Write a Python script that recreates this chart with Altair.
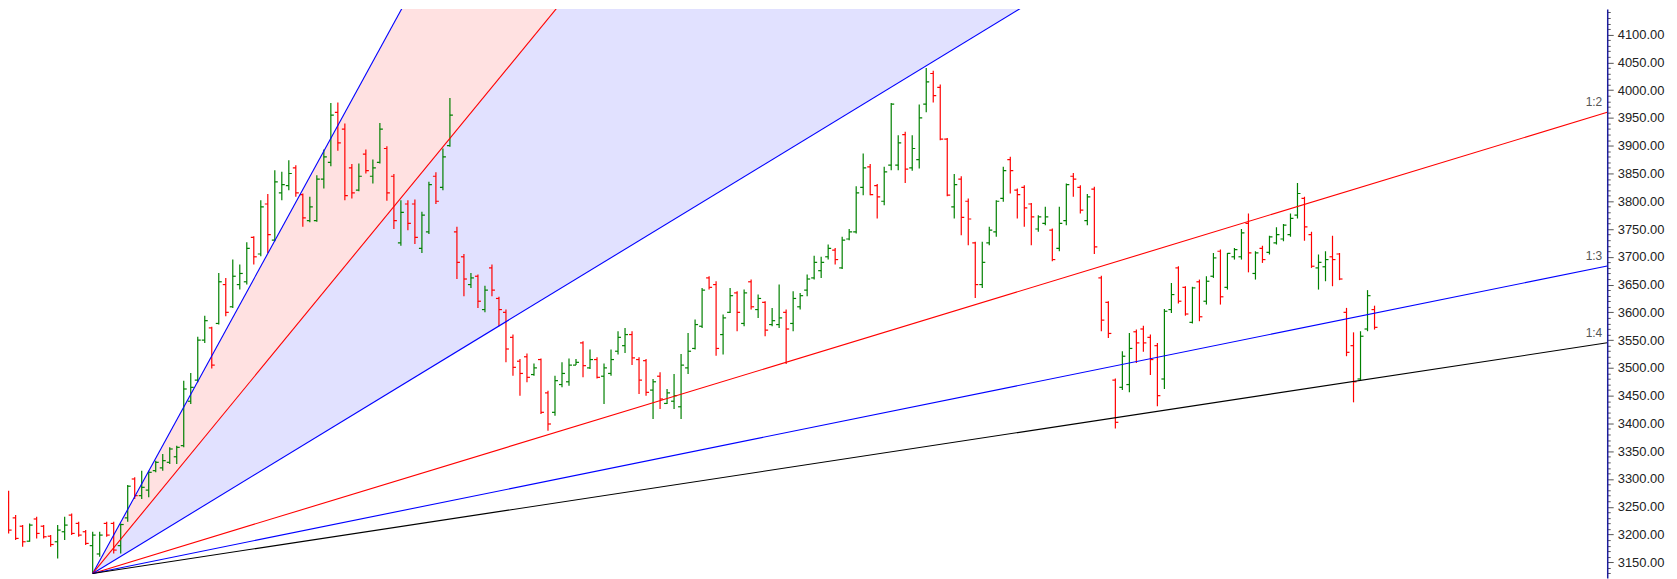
import altair as alt
import pandas as pd

# ---------------- OHLC data (one entry per bar) ----------------
opens = [3295, 3258, 3230, 3215, 3188, 3228, 3215, 3197, 3187, 3205,
         3235, 3220, 3205, 3180, 3165, 3220, 3220, 3180, 3230, 3300,
         3270, 3280, 3315, 3320, 3330, 3340, 3360, 3440, 3478, 3550,
         3572, 3580, 3650, 3610, 3650, 3655, 3735, 3705, 3795, 3730,
         3815, 3828, 3860, 3812, 3765, 3765, 3840, 3870, 3960, 3930,
         3860, 3820, 3885, 3845, 3870, 3895, 3845, 3725, 3795, 3795,
         3715, 3745, 3845, 3825, 3900, 3745, 3700, 3650, 3665, 3605,
         3680, 3625, 3600, 3555, 3512, 3520, 3488, 3515, 3455, 3420,
         3470, 3475, 3505, 3545, 3500, 3515, 3485, 3490, 3530, 3540,
         3560, 3515, 3513, 3460, 3485, 3436, 3440, 3430, 3500, 3535,
         3575, 3662, 3650, 3560, 3600, 3635, 3580, 3655, 3605, 3618,
         3578, 3578, 3600, 3580, 3610, 3640, 3662, 3675, 3700, 3712,
         3680, 3732, 3745, 3825, 3862, 3828, 3800, 3865, 3865, 3920,
         3860, 3875, 3975, 4030, 4005, 3912, 3790, 3840, 3800, 3725,
         3650, 3725, 3745, 3805, 3875, 3820, 3825, 3795, 3750, 3760,
         3748, 3715, 3765, 3845, 3825, 3765, 3822, 3662, 3618, 3478,
         3465, 3470, 3565, 3570, 3555, 3540, 3480, 3605, 3680, 3645,
         3582, 3655, 3620, 3665, 3710, 3645, 3700, 3700, 3760, 3670,
         3715, 3708, 3725, 3732, 3740, 3775, 3805, 3740, 3680, 3682,
         3700, 3705, 3600, 3540, 3480, 3570, 3605]
highs = [3298, 3279, 3235, 3217, 3220, 3232, 3217, 3199, 3217, 3232,
         3238, 3223, 3208, 3205, 3205, 3223, 3223, 3220, 3289, 3303,
         3315, 3315, 3333, 3345, 3357, 3360, 3477, 3491, 3556, 3594,
         3574, 3671, 3662, 3695, 3686, 3726, 3737, 3802, 3813, 3856,
         3853, 3874, 3865, 3814, 3808, 3847, 3893, 3977, 3978, 3940,
         3867, 3868, 3893, 3875, 3941, 3899, 3849, 3802, 3802, 3803,
         3781, 3835, 3852, 3895, 3986, 3754, 3705, 3671, 3668, 3648,
         3686, 3628, 3605, 3560, 3516, 3526, 3508, 3517, 3459, 3486,
         3510, 3517, 3516, 3548, 3533, 3519, 3508, 3533, 3566, 3572,
         3566, 3519, 3516, 3480, 3492, 3462, 3489, 3525, 3563, 3587,
         3644, 3665, 3656, 3596, 3644, 3638, 3641, 3659, 3632, 3620,
         3608, 3650, 3605, 3638, 3635, 3668, 3702, 3700, 3722, 3716,
         3736, 3750, 3827, 3886, 3867, 3831, 3862, 3977, 3919, 3925,
         3919, 3974, 4040, 4035, 4010, 3914, 3849, 3845, 3805, 3727,
         3727, 3754, 3802, 3862, 3880, 3823, 3829, 3797, 3775, 3790,
         3751, 3790, 3832, 3851, 3829, 3813, 3826, 3666, 3620, 3481,
         3530, 3563, 3569, 3576, 3560, 3545, 3606, 3653, 3683, 3647,
         3646, 3659, 3665, 3707, 3713, 3707, 3716, 3750, 3778, 3710,
         3720, 3738, 3753, 3759, 3778, 3833, 3808, 3745, 3704, 3710,
         3738, 3707, 3608, 3564, 3566, 3640, 3612]
lows = [3232, 3202, 3190, 3178, 3187, 3193, 3193, 3178, 3157, 3190,
        3199, 3196, 3181, 3130, 3160, 3196, 3166, 3166, 3223, 3264,
        3264, 3267, 3312, 3315, 3327, 3327, 3357, 3435, 3474, 3545,
        3499, 3578, 3593, 3608, 3641, 3650, 3686, 3701, 3707, 3728,
        3802, 3820, 3808, 3754, 3762, 3763, 3823, 3863, 3891, 3802,
        3805, 3818, 3850, 3832, 3868, 3801, 3750, 3720, 3748, 3723,
        3707, 3741, 3795, 3820, 3898, 3660, 3629, 3644, 3608, 3600,
        3629, 3575, 3510, 3486, 3450, 3474, 3486, 3417, 3387, 3414,
        3465, 3468, 3505, 3483, 3498, 3481, 3435, 3486, 3524, 3527,
        3505, 3453, 3450, 3408, 3426, 3435, 3426, 3408, 3489, 3533,
        3572, 3641, 3522, 3524, 3599, 3566, 3575, 3605, 3590, 3557,
        3575, 3572, 3507, 3566, 3605, 3629, 3659, 3662, 3695, 3686,
        3678, 3730, 3742, 3811, 3811, 3769, 3793, 3856, 3856, 3833,
        3855, 3859, 3960, 3978, 3910, 3809, 3769, 3739, 3721, 3626,
        3644, 3721, 3736, 3799, 3814, 3769, 3754, 3721, 3745, 3757,
        3692, 3710, 3757, 3808, 3778, 3757, 3705, 3566, 3554, 3391,
        3460, 3456, 3509, 3529, 3487, 3431, 3462, 3599, 3616, 3594,
        3580, 3584, 3614, 3662, 3614, 3641, 3695, 3695, 3672, 3659,
        3689, 3704, 3722, 3728, 3736, 3769, 3729, 3680, 3641, 3656,
        3647, 3658, 3521, 3438, 3477, 3566, 3569]
closes = [3258, 3208, 3193, 3187, 3217, 3202, 3196, 3182, 3208, 3217,
          3202, 3199, 3184, 3199, 3199, 3199, 3172, 3218, 3287, 3270,
          3285, 3312, 3330, 3333, 3354, 3357, 3462, 3465, 3550, 3585,
          3505, 3655, 3600, 3665, 3670, 3715, 3700, 3790, 3740, 3835,
          3830, 3850, 3815, 3770, 3790, 3840, 3880, 3955, 3905, 3810,
          3815, 3845, 3855, 3860, 3930, 3815, 3765, 3780, 3760, 3735,
          3775, 3830, 3800, 3880, 3955, 3690, 3660, 3662, 3620, 3640,
          3640, 3605, 3534, 3501, 3490, 3483, 3500, 3420, 3399, 3477,
          3490, 3505, 3510, 3504, 3515, 3483, 3500, 3515, 3555, 3560,
          3518, 3478, 3456, 3475, 3444, 3455, 3450, 3505, 3530, 3578,
          3640, 3645, 3535, 3590, 3630, 3600, 3635, 3610, 3625, 3568,
          3585, 3590, 3570, 3625, 3630, 3660, 3690, 3690, 3715, 3695,
          3730, 3745, 3815, 3860, 3812, 3808, 3853, 3975, 3905, 3858,
          3895, 3950, 4015, 3990, 3912, 3811, 3830, 3771, 3768, 3650,
          3690, 3748, 3800, 3855, 3855, 3812, 3788, 3772, 3772, 3772,
          3695, 3760, 3830, 3840, 3784, 3808, 3718, 3586, 3562, 3402,
          3521, 3535, 3545, 3545, 3515, 3450, 3602, 3632, 3620, 3597,
          3644, 3592, 3656, 3698, 3628, 3706, 3713, 3743, 3707, 3707,
          3695, 3736, 3740, 3757, 3769, 3814, 3754, 3683, 3690, 3695,
          3695, 3660, 3528, 3475, 3557, 3630, 3573]

# ---------------- Gann fan ----------------
fan_names = ["3:1", "2:1", "1:1", "1:2", "1:3", "1:4"]
fan_ratios = [3.0, 2.0, 1.0, 0.5, 1.0 / 3.0, 0.25]
fan_colors = ["#0000ff", "#ff0000", "#0000ff", "#ff0000", "#0000ff", "#000000"]
fan_labelled = ["1:2", "1:3", "1:4"]
fan_origin_bar = 13
fan_origin_price = 3130
fan_unit = 7.68          # price per bar for the 1:1 line
fills = [("3:1", "2:1", "#ffe1e1"), ("2:1", "1:1", "#e1e1ff")]

# visible ranges
X_MIN, X_MAX = 0.91, 229.22
Y_MIN, Y_MAX = 3121.8, 4146.05

UP_COLOR = "#008000"
DOWN_COLOR = "#ff0000"

n = len(opens)
bars = pd.DataFrame({"i": list(range(n)), "o": opens, "h": highs,
                     "l": lows, "c": closes})
bars["col"] = [UP_COLOR if c >= o else DOWN_COLOR for o, c in zip(opens, closes)]


def fan_price(ratio, x):
    return fan_origin_price + ratio * fan_unit * (x - fan_origin_bar)


line_rows = []
for name, r, col in zip(fan_names, fan_ratios, fan_colors):
    for x in (fan_origin_bar, X_MAX):
        line_rows.append({"name": name, "x": x, "y": fan_price(r, x), "col": col})
lines = pd.DataFrame(line_rows)

ratio_of = dict(zip(fan_names, fan_ratios))
fill_rows = []
for a, b, col in fills:
    for x in (fan_origin_bar, X_MAX):
        fill_rows.append({"name": a + "/" + b, "x": x,
                          "y": fan_price(ratio_of[a], x),
                          "y2": fan_price(ratio_of[b], x), "col": col})
fill_df = pd.DataFrame(fill_rows)

label_df = pd.DataFrame({"name": fan_labelled,
                         "x": [X_MAX] * len(fan_labelled),
                         "y": [fan_price(ratio_of[nm], X_MAX) for nm in fan_labelled]})

tick_values = list(range(3130, 4150, 10))
y_axis = alt.Axis(
    orient="right", values=tick_values, title=None, grid=False,
    labelExpr="datum.value % 50 === 0 ? format(datum.value, '.2f') : ''",
    labelOverlap=False, labelFont="Liberation Sans", labelFontSize=13,
    labelColor="#222222", labelPadding=4,
    tickSize={"condition": {"test": "datum.value % 50 === 0", "value": 6}, "value": 3},
    tickColor="#555555", tickWidth=1,
    domainColor="#1c1c9c", domainWidth=1.5,
)
xs = alt.Scale(domain=[X_MIN, X_MAX], nice=False, zero=False)
ys = alt.Scale(domain=[Y_MIN, Y_MAX], nice=False, zero=False)

fill_layer = alt.Chart(fill_df).mark_area(clip=True, opacity=1).encode(
    x=alt.X("x:Q", scale=xs, axis=None),
    y=alt.Y("y:Q", scale=ys, axis=y_axis),
    y2="y2:Q",
    fill=alt.Fill("col:N", scale=None),
    detail="name:N",
)

hl = alt.Chart(bars).mark_rule(clip=True, strokeWidth=1.2).encode(
    x=alt.X("i:Q", scale=xs, axis=None),
    y=alt.Y("l:Q", scale=ys, axis=y_axis),
    y2="h:Q",
    stroke=alt.Stroke("col:N", scale=None),
)
open_tick = alt.Chart(bars).mark_rule(clip=True, strokeWidth=1.2, xOffset=-3, x2Offset=0).encode(
    x=alt.X("i:Q", scale=xs, axis=None),
    x2="i:Q",
    y=alt.Y("o:Q", scale=ys, axis=y_axis),
    stroke=alt.Stroke("col:N", scale=None),
)
close_tick = alt.Chart(bars).mark_rule(clip=True, strokeWidth=1.2, xOffset=0, x2Offset=3).encode(
    x=alt.X("i:Q", scale=xs, axis=None),
    x2="i:Q",
    y=alt.Y("c:Q", scale=ys, axis=y_axis),
    stroke=alt.Stroke("col:N", scale=None),
)

line_layer = alt.Chart(lines).mark_line(clip=True, strokeWidth=1.1).encode(
    x=alt.X("x:Q", scale=xs, axis=None),
    y=alt.Y("y:Q", scale=ys, axis=y_axis),
    stroke=alt.Stroke("col:N", scale=None),
    detail="name:N",
)

label_layer = alt.Chart(label_df).mark_text(
    align="right", baseline="bottom", dx=-5, dy=-3,
    font="Liberation Sans", fontSize=12, color="#555555",
).encode(
    x=alt.X("x:Q", scale=xs, axis=None),
    y=alt.Y("y:Q", scale=ys, axis=y_axis),
    text="name:N",
)

chart = alt.layer(fill_layer, hl, open_tick, close_tick, line_layer, label_layer).properties(
    width=1605, height=571,
    autosize=alt.AutoSizeParams(type="none"),
    padding={"left": 0, "top": 0, "right": 62, "bottom": 0},
    background="white",
).configure_view(stroke=None)

chart.save("out.html", embed_options={"renderer": "svg", "actions": False})
